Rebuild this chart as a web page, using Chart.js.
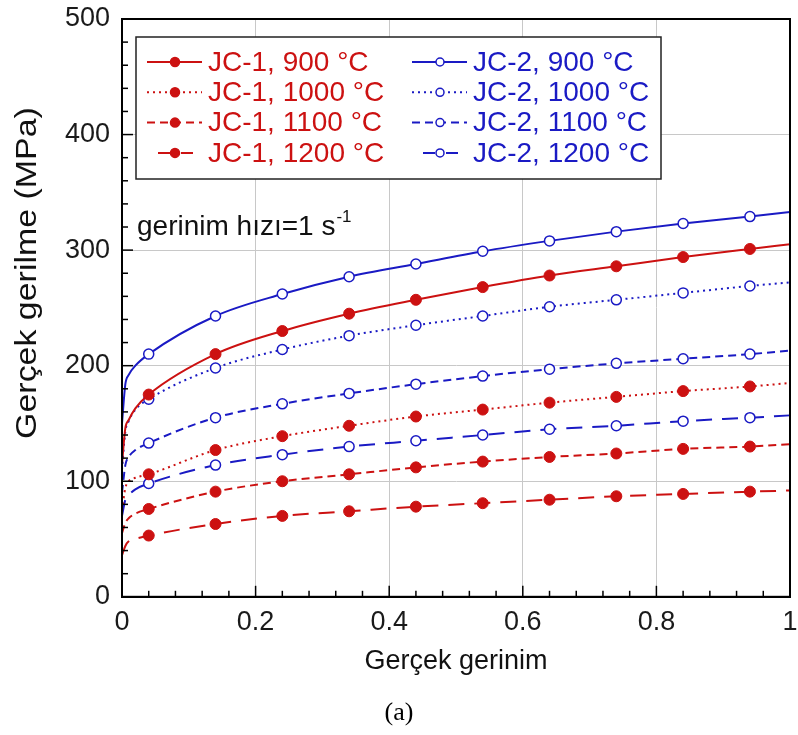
<!DOCTYPE html>
<html>
<head>
<meta charset="utf-8">
<title>Gerçek gerilme - gerinim</title>
<script src="https://cdn.jsdelivr.net/npm/chart.js@4.4.0/dist/chart.umd.min.js"></script>
<style>
    html, body { margin: 0; padding: 0; background: #fff; }
    #wrap { width: 798px; height: 735px; }
</style>
</head>
<body>
<div id="wrap"><canvas id="flowChart" width="798" height="735"></canvas></div>
<script>
// strain points (markers sit at 0.04, 0.14, ... 0.94)
const strain = [0, 0.005, 0.01, 0.02, 0.04, 0.14, 0.24, 0.34, 0.44, 0.54, 0.64, 0.74, 0.84, 0.94, 1];
const markerStrain = [0.04, 0.14, 0.24, 0.34, 0.44, 0.54, 0.64, 0.74, 0.84, 0.94];

// JC-1 model (red, filled markers)
const jc1_900  = [115, 146, 153, 163, 175, 210, 230, 245, 257, 268, 278, 286, 294, 301, 305];
const jc1_1000 = [75, 94, 100, 103, 106, 127, 139, 148, 156, 162, 168, 173, 178, 182, 185];
const jc1_1100 = [55, 64, 68, 72, 76, 91, 100, 106, 112, 117, 121, 124, 128, 130, 132];
const jc1_1200 = [36, 44, 48, 50, 53, 63, 70, 74, 78, 81, 84, 87, 89, 91, 92];

// JC-2 model (blue, open markers)
const jc2_900  = [150, 184, 192, 200, 210, 243, 262, 277, 288, 299, 308, 316, 323, 329, 333];
const jc2_1000 = [110, 143, 152, 162, 171, 198, 214, 226, 235, 243, 251, 257, 263, 269, 272];
const jc2_1100 = [90, 114, 121, 127, 133, 155, 167, 176, 184, 191, 197, 202, 206, 210, 213];
const jc2_1200 = [70, 84, 88, 93, 98, 114, 123, 130, 135, 140, 145, 148, 152, 155, 157];

const xTicks = [0, 0.2, 0.4, 0.6, 0.8, 1];
const yTicks = [0, 100, 200, 300, 400, 500];

const RED = '#cc1111';
const BLUE = '#1a1ac4';
const DOT = [2, 4];
const DASH = [8, 5];
const LONG = [16, 10];

const FONT = "'Liberation Sans', Arial, sans-serif";
Chart.defaults.font.family = FONT;

function series(label, values, color, dash, open) {
    return {
        label: label,
        data: strain.map((x, i) => ({ x: x, y: values[i] })),
        borderColor: color,
        borderWidth: 2,
        borderDash: dash,
        cubicInterpolationMode: 'monotone',
        pointRadius: ctx => markerStrain.includes(strain[ctx.dataIndex]) ? (open ? 5 : 5.5) : 0,
        pointHoverRadius: 0,
        pointBackgroundColor: open ? '#fff' : color,
        pointBorderColor: color,
        pointBorderWidth: open ? 1.5 : 1,
        fill: false
    };
}

const datasets = [
    series('JC-1, 900 °C', jc1_900, RED, [], false),
    series('JC-1, 1000 °C', jc1_1000, RED, DOT, false),
    series('JC-1, 1100 °C', jc1_1100, RED, DASH, false),
    series('JC-1, 1200 °C', jc1_1200, RED, LONG, false),
    series('JC-2, 900 °C', jc2_900, BLUE, [], true),
    series('JC-2, 1000 °C', jc2_1000, BLUE, DOT, true),
    series('JC-2, 1100 °C', jc2_1100, BLUE, DASH, true),
    series('JC-2, 1200 °C', jc2_1200, BLUE, LONG, true)
];

// frame + inward major/minor ticks + y title (drawn a bit wider and higher, as in the original)
const frameTicks = {
    id: 'frameTicks',
    afterDraw(chart) {
        const { ctx, chartArea: a, scales: { x, y } } = chart;
        ctx.save();
        ctx.strokeStyle = '#000';
        ctx.lineWidth = 1.5;
        for (let i = 0; i <= 25; i++) {
            const px = x.getPixelForValue(i * 0.04);
            const len = i % 5 === 0 ? 11 : 6;
            ctx.beginPath();
            ctx.moveTo(px, a.bottom);
            ctx.lineTo(px, a.bottom - len);
            ctx.stroke();
        }
        for (let i = 0; i <= 25; i++) {
            const py = y.getPixelForValue(i * 20);
            const len = i % 5 === 0 ? 11 : 6;
            ctx.beginPath();
            ctx.moveTo(a.left, py);
            ctx.lineTo(a.left + len, py);
            ctx.stroke();
        }
        ctx.lineWidth = 2;
        ctx.strokeRect(a.left, a.top, a.right - a.left, a.bottom - a.top);

        ctx.translate(28, 273);
        ctx.rotate(-Math.PI / 2);
        ctx.scale(1.17, 1);
        ctx.font = '29px ' + FONT;
        ctx.fillStyle = '#111';
        ctx.textAlign = 'center';
        ctx.textBaseline = 'middle';
        ctx.fillText('Gerçek gerilme (MPa)', 0, 0);
        ctx.restore();
    }
};

// two-column legend box and strain-rate note inside the plot
const legendBox = {
    id: 'legendBox',
    afterDraw(chart) {
        const { ctx, chartArea: a } = chart;
        const left = a.left + 14, top = a.top + 18, w = 525, h = 142;
        ctx.save();
        ctx.fillStyle = '#fff';
        ctx.fillRect(left, top, w, h);
        ctx.strokeStyle = '#222';
        ctx.lineWidth = 1.5;
        ctx.strokeRect(left, top, w, h);

        ctx.font = '28px ' + FONT;
        ctx.textBaseline = 'middle';
        chart.data.datasets.forEach((ds, i) => {
            const col = Math.floor(i / 4), row = i % 4;
            const x0 = left + 11 + col * 265;
            const yy = top + 25 + row * 30.3;
            const longDash = ds.borderDash === LONG;
            ctx.strokeStyle = ds.borderColor;
            ctx.lineWidth = 2;
            ctx.setLineDash(longDash ? [12, 11, 12, 100] : ds.borderDash);
            ctx.beginPath();
            ctx.moveTo(x0 + (longDash ? 11 : 0), yy);
            ctx.lineTo(x0 + 55, yy);
            ctx.stroke();
            ctx.setLineDash([]);
            ctx.beginPath();
            ctx.arc(x0 + 28, yy, col === 0 ? 4.5 : 4, 0, Math.PI * 2);
            ctx.fillStyle = ds.pointBackgroundColor;
            ctx.fill();
            ctx.lineWidth = 1.5;
            ctx.stroke();
            ctx.fillStyle = ds.borderColor;
            ctx.fillText(ds.label, x0 + 61, yy + 1);
        });

        // gerinim hızı note
        ctx.fillStyle = '#111';
        ctx.font = '28px ' + FONT;
        const note = 'gerinim hızı=1 s';
        const nx = left + 1, ny = a.top + 208;
        ctx.fillText(note, nx, ny);
        const nw = ctx.measureText(note).width;
        ctx.font = '17px ' + FONT;
        ctx.fillText('-1', nx + nw + 1, ny - 10);
        ctx.restore();
    }
};

new Chart(document.getElementById('flowChart'), {
    type: 'line',
    data: { datasets: datasets },
    options: {
        responsive: false,
        animation: false,
        events: [],
        layout: { padding: 0 },
        plugins: {
            legend: { display: false },
            tooltip: { enabled: false },
            title: {
                display: true,
                text: '(a)',
                position: 'bottom',
                color: '#000',
                font: { family: "'Liberation Serif', 'Times New Roman', serif", size: 26, weight: 'normal' },
                padding: { top: 4, bottom: 6 }
            }
        },
        scales: {
            x: {
                type: 'linear',
                min: 0,
                max: 1,
                afterFit: s => { s.height = 97; s.paddingLeft = 0; s.paddingRight = 8; },
                afterBuildTicks: s => { s.ticks = xTicks.map(v => ({ value: v })); },
                ticks: {
                    font: { size: 27 },
                    color: '#1a1a1a',
                    padding: 10,
                    maxRotation: 0,
                    callback: v => String(+v.toFixed(1))
                },
                grid: { color: '#c8c8c8', lineWidth: 1, drawTicks: false },
                border: { display: true, color: '#000', width: 2 },
                title: {
                    display: true,
                    text: 'Gerçek gerinim',
                    color: '#111',
                    font: { size: 27 },
                    padding: { top: 0, bottom: 16 }
                }
            },
            y: {
                min: 0,
                max: 500,
                afterFit: s => { s.width = 122; s.paddingTop = 19; s.paddingBottom = 0; },
                afterBuildTicks: s => { s.ticks = yTicks.map(v => ({ value: v })); },
                ticks: { font: { size: 27 }, color: '#1a1a1a', padding: 12 },
                grid: { color: '#c8c8c8', lineWidth: 1, drawTicks: false },
                border: { display: true, color: '#000', width: 2 }
            }
        }
    },
    plugins: [frameTicks, legendBox]
});
</script>
</body>
</html>
